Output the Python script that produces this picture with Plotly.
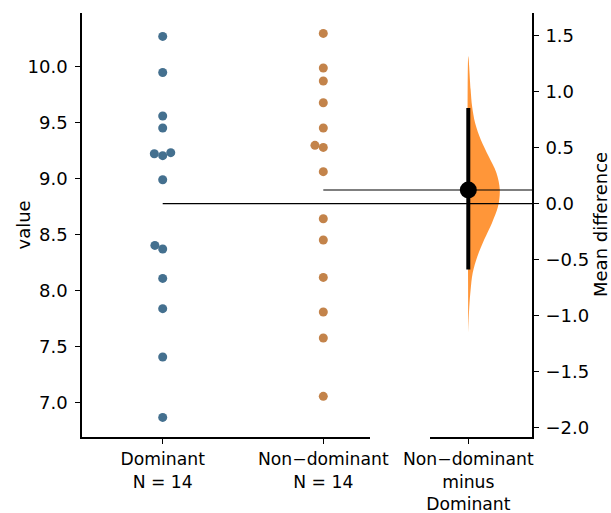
import plotly.graph_objects as go

# ---------------- data ----------------
groups = ["Dominant", "Non−dominant"]
dominant = [10.268, 9.946, 9.557, 9.45, 9.22, 9.203, 9.23, 8.988,
            8.402, 8.37, 8.107, 7.837, 7.405, 6.866]
non_dominant = [10.295, 9.986, 9.87, 9.676, 9.45, 9.295, 9.277, 9.06,
                8.64, 8.45, 8.116, 7.807, 7.575, 7.054]
contrast_label = "Non−dominant<br>minus<br>Dominant"
ci_low = -0.589
ci_high = 0.854
# bootstrap density of the mean difference (relative height)
boot_levels = [1.315, 1.018, 0.869, 0.72, 0.571, 0.422, 0.274, 0.125,
               -0.024, -0.172, -0.321, -0.47, -0.619, -0.768, -0.917, -1.155]
boot_density = [0.0, 0.074, 0.12, 0.216, 0.397, 0.645, 0.894, 1.0,
                0.945, 0.752, 0.506, 0.29, 0.139, 0.074, 0.032, 0.0]

# ---------------- layout geometry ----------------
W, H = 611, 513
ML, MR, MT, MB = 82, 79, 13, 76
PW, PH = W - ML - MR, H - MT - MB
X1_DOM = [0.0, (370 - ML) / PW]
X2_DOM = [(430 - ML) / PW, 1.0]
X1_RANGE = [-0.5025, 1.2908]
X2_RANGE = [-0.383, 0.637]
Y1_RANGE = [6.691, 10.477]
VIOLIN_HALF = 0.315
FONT = "DejaVu Sans"
FS = 18
FSX = 17.2

blue = "#44708f"
orange = "#c3834a"
violin = "rgba(255,127,14,0.82)"

mean_dom = sum(dominant) / len(dominant)
mean_non = sum(non_dominant) / len(non_dominant)
diff = mean_non - mean_dom
Y2_RANGE = [Y1_RANGE[0] - mean_dom, Y1_RANGE[1] - mean_dom]

px_per_x = (X1_DOM[1] - X1_DOM[0]) * PW / (X1_RANGE[1] - X1_RANGE[0])
px_per_y = PH / (Y1_RANGE[1] - Y1_RANGE[0])


def swarm(values, d_px):
    order = sorted(range(len(values)), key=lambda i: values[i])
    placed = []
    offs = [0.0] * len(values)
    for i in order:
        y = values[i] * px_per_y
        cands = [0.0]
        for (px, py) in placed:
            dy = abs(y - py)
            if dy < d_px:
                dx = (d_px ** 2 - dy ** 2) ** 0.5
                cands += [px - dx, px + dx]
        cands = sorted(cands, key=lambda c: (round(abs(c), 6), c))
        chosen = cands[-1]
        for c in cands:
            if all((c - px) ** 2 + (y - py) ** 2 >= d_px ** 2 - 1e-6 for px, py in placed):
                chosen = c
                break
        placed.append((chosen, y))
        offs[i] = chosen / px_per_x
    return offs


fig = go.Figure()

for gi, (vals, col) in enumerate([(dominant, blue), (non_dominant, orange)]):
    offs = swarm(vals, 8.6)
    fig.add_trace(go.Scatter(
        x=[gi + o for o in offs], y=vals, mode="markers",
        marker=dict(size=9, color=col, line=dict(width=0)),
        xaxis="x", yaxis="y", showlegend=False, hoverinfo="skip"))

# half violin of bootstrap distribution
vx = [d * VIOLIN_HALF for d in boot_density] + [0.0, 0.0]
vy = boot_levels + [boot_levels[-1], boot_levels[0]]
fig.add_trace(go.Scatter(
    x=vx, y=vy, mode="lines", fill="toself", fillcolor=violin,
    line=dict(width=0, color=violin, shape="spline", smoothing=0.9),
    xaxis="x2", yaxis="y2", showlegend=False, hoverinfo="skip"))

# CI bar
fig.add_trace(go.Scatter(
    x=[0, 0], y=[ci_low, ci_high], mode="lines",
    line=dict(color="black", width=4),
    xaxis="x2", yaxis="y2", showlegend=False, hoverinfo="skip"))
# effect size dot
fig.add_trace(go.Scatter(
    x=[0], y=[diff], mode="markers",
    marker=dict(size=17, color="black"),
    xaxis="x2", yaxis="y2", showlegend=False, hoverinfo="skip"))


def paper_x(v):
    return X1_DOM[0] + (v - X1_RANGE[0]) / (X1_RANGE[1] - X1_RANGE[0]) * (X1_DOM[1] - X1_DOM[0])


for gi, m in enumerate([mean_dom, mean_non]):
    fig.add_shape(type="line", xref="paper", yref="y",
                  x0=paper_x(gi), x1=1.0, y0=m, y1=m,
                  line=dict(color="black", width=1.2), layer="above")

axis_common = dict(showgrid=False, zeroline=False, showline=True, linecolor="black",
                   linewidth=1.6, ticks="outside", ticklen=5, tickwidth=1.4,
                   tickcolor="black", automargin=False)

fig.update_layout(
    width=W, height=H,
    margin=dict(l=ML, r=MR, t=MT, b=MB),
    paper_bgcolor="white", plot_bgcolor="white",
    font=dict(family=FONT, size=FS, color="black"),
    xaxis=dict(domain=X1_DOM, range=X1_RANGE, tickvals=[0, 1],
               ticktext=[f"{g}<br>N = {n}" for g, n in zip(groups, [len(dominant), len(non_dominant)])],
               anchor="y", ticklabelstandoff=1,
               tickfont=dict(family=FONT, size=FSX, color="black"), **axis_common),
    yaxis=dict(domain=[0, 1], range=Y1_RANGE, dtick=0.5, tickformat=".1f",
               anchor="x", ticklabelstandoff=4,
               tickfont=dict(family=FONT, size=FS, color="black"), **axis_common),
    xaxis2=dict(domain=X2_DOM, range=X2_RANGE, tickvals=[0], ticktext=[contrast_label],
                anchor="y2", ticklabelstandoff=1,
                tickfont=dict(family=FONT, size=FSX, color="black"), **axis_common),
    yaxis2=dict(domain=[0, 1], range=Y2_RANGE, dtick=0.5, tickformat=".1f",
                anchor="x2", side="right", ticklabelstandoff=3,
                tickfont=dict(family=FONT, size=FS, color="black"), **axis_common),
    annotations=[
        dict(text="value", xref="paper", yref="paper", x=(22.5 - ML) / PW, y=0.5,
             xanchor="center", yanchor="middle", textangle=-90, showarrow=False,
             font=dict(family=FONT, size=FS, color="black")),
        dict(text="Mean difference", xref="paper", yref="paper", x=(600 - ML) / PW, y=0.5,
             xanchor="center", yanchor="middle", textangle=-90, showarrow=False,
             font=dict(family=FONT, size=FS, color="black")),
    ],
)

fig.write_html("out.html", config={"displayModeBar": False},
               post_script="document.body.style.margin='0px';document.body.style.overflow='hidden';")
